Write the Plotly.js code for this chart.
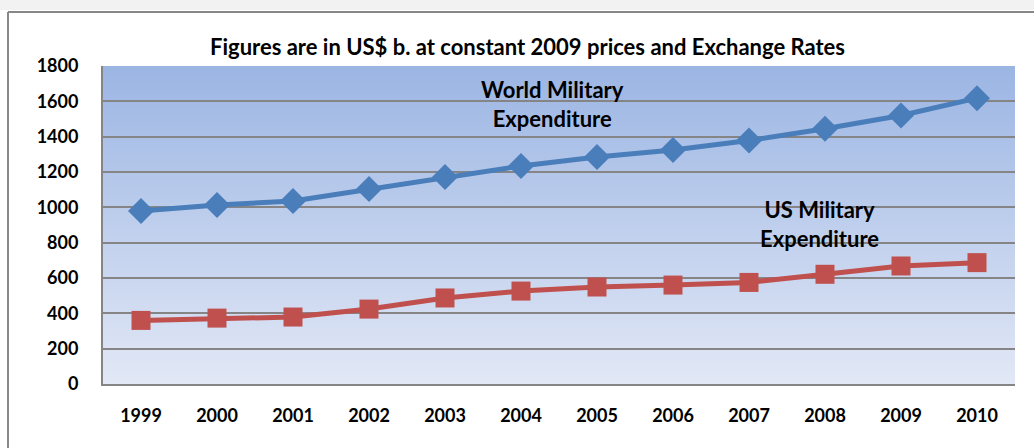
<!DOCTYPE html>
<html><head><meta charset="utf-8">
<script src="https://cdn.plot.ly/plotly-3.0.1.min.js"></script>
<style>html,body{margin:0;padding:0;background:#fff;}#chart{width:1034px;height:448px;}</style>
</head><body><div id="chart"></div>
<script>
const years = ['1999','2000','2001','2002','2003','2004','2005','2006','2007','2008','2009','2010'];
const worldSpending = [979, 1013, 1036, 1104, 1172, 1234, 1285, 1324, 1378, 1445, 1520, 1618];
const usSpending = [360, 373, 379, 424, 487, 526, 549, 560, 575, 621, 668, 687];
const yTicks = [0, 200, 400, 600, 800, 1000, 1200, 1400, 1600, 1800];

const W = 1034, H = 448, mL = 103, mR = 19, mT = 66, mB = 64;
const pw = W - mL - mR, ph = H - mT - mB;
const px = x => (x - mL) / pw;
const py = y => (H - mB - y) / ph;

const FONT = 'Lato, "Open Sans", sans-serif';
const grad = 'data:image/svg+xml;base64,' + btoa(
  '<svg xmlns="http://www.w3.org/2000/svg" width="10" height="100" preserveAspectRatio="none">' +
  '<defs><linearGradient id="g" x1="0" y1="0" x2="0" y2="1">' +
  '<stop offset="0" stop-color="#9BB5E3"/><stop offset="1" stop-color="#E2E8F6"/></linearGradient></defs>' +
  '<rect width="10" height="100" fill="url(#g)"/></svg>');

const traces = [
  {x: years, y: worldSpending, type: 'scatter', mode: 'lines+markers', name: 'World',
   line: {color: '#4A7EBB', width: 5}, marker: {symbol: 'diamond', size: 20, color: '#4A7EBB'}},
  {x: years, y: usSpending, type: 'scatter', mode: 'lines+markers', name: 'US',
   line: {color: '#C0504D', width: 5}, marker: {symbol: 'square', size: 19, color: '#C0504D'}}
];

const annFont = {family: FONT, size: 22, weight: 'bold', color: '#000'};
const layout = {
  width: W, height: H,
  margin: {l: mL, r: mR, t: mT, b: mB, pad: 0},
  paper_bgcolor: '#ffffff', plot_bgcolor: 'rgba(0,0,0,0)',
  showlegend: false,
  font: {family: FONT, color: '#000'},
  xaxis: {type: 'category', range: [-0.5, 11.5], showgrid: false, zeroline: false,
          showline: true, linecolor: '#858585', linewidth: 2, ticks: '',
          tickfont: {family: FONT, size: 18, weight: 'bold'}, ticklabelstandoff: 14},
  yaxis: {range: [0, 1800], tickvals: yTicks, ticktext: yTicks.map(String),
          showgrid: true, gridcolor: '#858585', gridwidth: 2, zeroline: false,
          showline: true, linecolor: '#858585', linewidth: 2, ticks: '',
          tickfont: {family: FONT, size: 18, weight: 'bold'}, ticklabelstandoff: 19},
  images: [{source: grad, xref: 'paper', yref: 'paper', x: 0, y: 1, sizex: 1, sizey: 1,
            sizing: 'stretch', xanchor: 'left', yanchor: 'top', layer: 'below'}],
  shapes: [
    {type: 'rect', xref: 'paper', yref: 'paper', x0: px(0), x1: px(W), y0: py(0), y1: py(10),
     fillcolor: '#f2f2f2', line: {width: 0}, layer: 'below'},
    {type: 'line', xref: 'paper', yref: 'paper', x0: px(8), x1: px(W), y0: py(12), y1: py(12),
     line: {color: '#888888', width: 2}},
    {type: 'line', xref: 'paper', yref: 'paper', x0: px(8), x1: px(8), y0: py(12), y1: py(H),
     line: {color: '#888888', width: 2}}
  ],
  annotations: [
    {text: 'Figures are in US$ b. at constant 2009 prices and Exchange Rates', xref: 'paper', yref: 'paper',
     x: px(527), y: py(46), xanchor: 'center', yanchor: 'middle', showarrow: false,
     font: {family: FONT, size: 22, weight: 'bold', color: '#000'}},
    {text: 'World Military<br>Expenditure', xref: 'paper', yref: 'paper', x: px(552), y: py(104),
     xanchor: 'center', yanchor: 'middle', showarrow: false, font: annFont},
    {text: 'US Military<br>Expenditure', xref: 'paper', yref: 'paper', x: px(819), y: py(224),
     xanchor: 'center', yanchor: 'middle', showarrow: false, font: annFont}
  ]
};
Plotly.newPlot('chart', traces, layout, {displayModeBar: false, staticPlot: true});
</script></body></html>
